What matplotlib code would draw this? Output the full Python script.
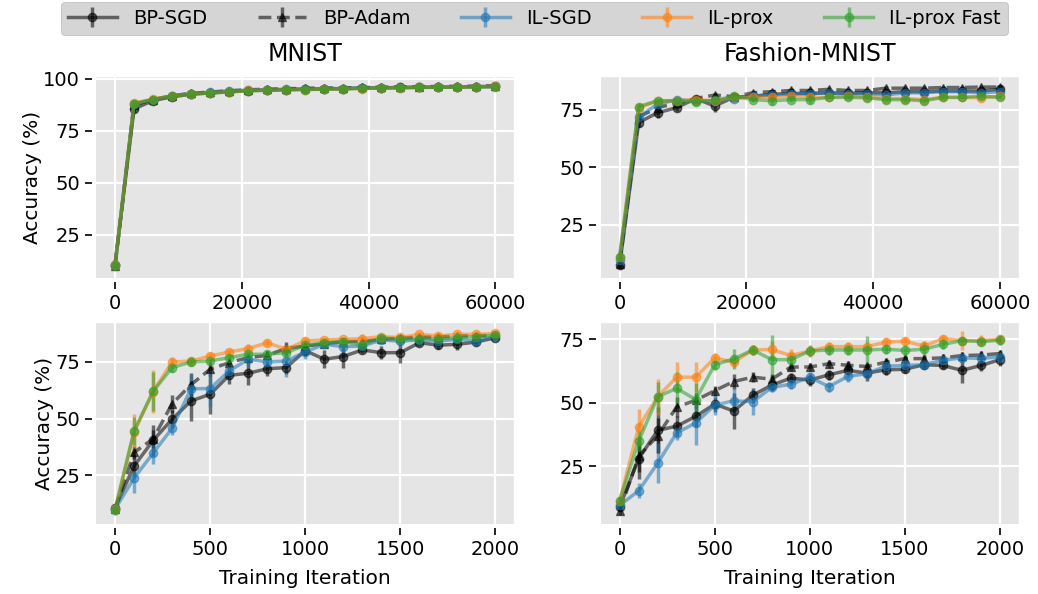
import numpy as np
import matplotlib
matplotlib.use("Agg")
import matplotlib.pyplot as plt

plt.style.use("ggplot")
plt.rcParams["font.family"] = ["DejaVu Sans"]
plt.rcParams["xtick.color"] = "black"
plt.rcParams["ytick.color"] = "black"
plt.rcParams["axes.labelcolor"] = "black"
plt.rcParams["text.color"] = "black"
plt.rcParams["grid.linewidth"] = 1.6

labels = ["BP-SGD", "BP-Adam", "IL-SGD", "IL-prox", "IL-prox Fast"]

# full-epoch runs (x every 3000 iterations)
x_long = [0, 3000, 6000, 9000, 12000, 15000, 18000, 21000, 24000, 27000, 30000,
          33000, 36000, 39000, 42000, 45000, 48000, 51000, 54000, 57000, 60000]
# first 2000 iterations (x every 100)
x_short = [0, 100, 200, 300, 400, 500, 600, 700, 800, 900, 1000,
           1100, 1200, 1300, 1400, 1500, 1600, 1700, 1800, 1900, 2000]

# MNIST, long run
mnist_long = {
    "BP-SGD": [10.5, 85.5, 89.5, 91.3, 92.6, 93.2, 93.8, 94.3, 94.5, 94.8, 95.0,
               95.1, 95.3, 95.5, 95.6, 95.8, 95.9, 96.0, 96.1, 96.2, 96.3],
    "BP-Adam": [10.0, 87.5, 90.0, 91.8, 93.0, 93.6, 94.2, 94.7, 95.0, 95.2, 95.4,
                95.6, 95.6, 95.8, 96.0, 96.1, 96.2, 96.3, 96.4, 96.5, 96.6],
    "IL-SGD": [10.5, 88.0, 90.0, 91.8, 92.9, 93.5, 94.2, 94.6, 94.8, 95.0, 95.1,
               95.3, 95.3, 95.6, 95.7, 95.8, 95.9, 96.0, 96.1, 96.2, 96.3],
    "IL-prox": [10.5, 88.3, 90.2, 91.7, 92.7, 93.2, 93.7, 94.4, 94.5, 94.7, 94.8,
                95.0, 95.2, 95.3, 95.6, 95.7, 95.9, 96.0, 96.1, 96.2, 96.3],
    "IL-prox Fast": [10.0, 88.0, 90.0, 91.5, 92.6, 93.1, 93.6, 94.3, 94.4, 94.7, 94.8,
                     95.0, 95.1, 95.4, 95.6, 95.7, 95.8, 95.9, 96.0, 96.1, 96.2],
}
mnist_long_err = {
    "BP-SGD": [1.0, 1.5, 0.8, 0.6, 0.5, 0.5, 0.4, 0.4, 0.4, 0.4, 0.3,
               0.3, 0.3, 0.3, 0.3, 0.3, 0.3, 0.3, 0.3, 0.3, 0.3],
    "BP-Adam": [1.0, 1.0, 0.6, 0.5, 0.4, 0.4, 0.4, 0.3, 0.3, 0.3, 0.3,
                0.3, 0.3, 0.3, 0.3, 0.3, 0.3, 0.3, 0.3, 0.3, 0.3],
    "IL-SGD": [1.0, 0.8, 0.5, 0.4, 0.4, 0.3, 0.3, 0.3, 0.3, 0.3, 0.3,
               0.3, 0.3, 0.3, 0.3, 0.3, 0.3, 0.3, 0.3, 0.3, 0.3],
    "IL-prox": [1.0, 0.8, 0.5, 0.4, 0.4, 0.3, 0.3, 0.3, 0.3, 0.3, 0.3,
                0.3, 0.3, 0.3, 0.5, 0.3, 0.3, 0.3, 0.3, 0.3, 0.3],
    "IL-prox Fast": [1.5, 0.8, 0.5, 0.4, 0.4, 0.3, 0.3, 0.3, 0.3, 0.3, 0.3,
                     0.3, 0.3, 0.3, 0.3, 0.3, 0.3, 0.3, 0.3, 0.3, 0.3],
}

# Fashion-MNIST, long run
fashion_long = {
    "BP-SGD": [7.2, 69.5, 73.8, 76.0, 80.0, 76.7, 80.6, 81.0, 81.8, 82.2, 82.2,
               82.5, 82.2, 82.5, 82.5, 83.0, 83.0, 83.3, 83.3, 83.3, 84.0],
    "BP-Adam": [8.0, 72.0, 76.0, 78.0, 80.0, 81.5, 80.8, 82.5, 83.0, 83.5, 83.5,
                84.0, 83.5, 83.5, 84.5, 84.5, 84.5, 84.8, 84.8, 85.0, 85.0],
    "IL-SGD": [9.5, 72.0, 77.5, 79.5, 79.0, 79.0, 80.0, 81.0, 81.5, 82.0, 82.0,
               82.5, 82.0, 82.0, 81.5, 82.5, 82.5, 83.0, 83.0, 82.5, 83.0],
    "IL-prox": [11.0, 76.0, 79.0, 79.0, 79.5, 79.0, 80.5, 80.5, 80.5, 81.0, 80.5,
                80.5, 81.0, 80.5, 80.0, 80.0, 79.5, 80.5, 80.5, 80.3, 81.0],
    "IL-prox Fast": [11.0, 76.5, 79.0, 79.0, 78.5, 79.2, 81.0, 79.5, 79.0, 79.5, 79.5,
                     80.5, 80.5, 80.3, 79.5, 79.5, 79.0, 80.5, 80.5, 81.0, 80.5],
}
fashion_long_err = {
    "BP-SGD": [1.5, 2.0, 2.5, 1.5, 1.0, 2.5, 1.0, 0.8, 0.8, 0.8, 0.8,
               0.8, 0.8, 0.8, 0.8, 0.8, 0.8, 0.8, 0.8, 0.8, 0.8],
    "BP-Adam": [1.5, 1.5, 1.0, 1.0, 0.8, 0.8, 0.8, 0.8, 0.8, 0.8, 0.8,
                0.8, 0.8, 0.8, 0.8, 0.8, 0.8, 0.8, 0.8, 0.8, 0.8],
    "IL-SGD": [1.5, 1.5, 1.0, 0.8, 0.8, 0.8, 0.6, 0.6, 0.6, 0.6, 0.6,
               0.6, 0.6, 0.6, 0.6, 0.6, 0.6, 0.6, 0.6, 0.6, 0.6],
    "IL-prox": [1.0, 1.0, 0.8, 0.8, 0.8, 0.8, 0.6, 0.6, 0.8, 0.6, 0.6,
                0.6, 0.6, 0.6, 0.8, 0.8, 0.6, 0.6, 0.6, 0.8, 0.6],
    "IL-prox Fast": [1.0, 1.5, 0.8, 0.8, 1.0, 0.8, 0.6, 1.0, 1.8, 1.0, 1.8,
                     0.8, 0.8, 0.8, 1.0, 1.5, 0.8, 1.0, 0.8, 1.2, 0.8],
}

# MNIST, first 2000 iterations
mnist_short = {
    "BP-SGD": [10.5, 29.0, 40.3, 49.7, 57.8, 60.7, 69.1, 70.0, 72.0, 72.5, 80.0,
               76.2, 77.4, 80.3, 79.1, 79.1, 83.5, 82.4, 82.8, 83.8, 85.7],
    "BP-Adam": [10.0, 35.0, 41.0, 56.5, 65.0, 71.8, 74.7, 76.9, 77.9, 81.0, 82.0,
                83.0, 84.0, 84.0, 85.0, 85.5, 86.0, 86.0, 86.5, 86.5, 86.8],
    "IL-SGD": [10.0, 23.7, 34.7, 45.7, 63.2, 63.2, 71.0, 76.2, 75.0, 75.4, 79.4,
               82.8, 81.8, 82.0, 84.7, 84.2, 84.7, 84.2, 85.0, 84.2, 86.5],
    "IL-prox": [10.0, 44.0, 61.9, 75.0, 75.4, 77.6, 79.4, 80.9, 83.5, 80.6, 84.3,
                84.7, 85.0, 85.3, 86.2, 85.8, 87.2, 86.5, 87.2, 87.2, 87.6],
    "IL-prox Fast": [9.5, 44.5, 62.0, 72.5, 75.0, 75.4, 76.9, 78.4, 78.4, 79.1, 82.4,
                     83.5, 84.0, 82.4, 85.7, 85.0, 85.3, 85.3, 85.7, 86.2, 86.8],
}
mnist_short_err = {
    "BP-SGD": [1.0, 5.0, 7.0, 4.0, 9.0, 8.5, 4.0, 5.0, 3.0, 3.0, 2.0,
               4.0, 5.0, 1.5, 3.0, 4.4, 1.5, 1.5, 2.5, 1.5, 1.0],
    "BP-Adam": [1.0, 3.0, 4.0, 4.0, 5.0, 3.0, 2.0, 2.0, 2.0, 3.0, 1.5,
                1.5, 1.5, 1.5, 1.0, 1.5, 1.0, 1.0, 1.0, 1.0, 1.0],
    "IL-SGD": [1.5, 6.5, 5.0, 3.0, 6.0, 8.0, 4.0, 3.0, 3.0, 7.0, 3.0,
               1.5, 2.5, 1.5, 1.5, 1.5, 1.5, 1.5, 1.5, 2.0, 1.0],
    "IL-prox": [1.5, 8.0, 9.5, 2.0, 2.0, 2.0, 1.5, 2.0, 1.5, 1.5, 1.5,
                1.0, 1.0, 2.0, 1.0, 1.0, 1.0, 1.0, 1.0, 1.0, 1.0],
    "IL-prox Fast": [2.0, 6.0, 8.5, 2.0, 2.0, 1.5, 1.5, 1.5, 1.5, 1.5, 1.5,
                     1.0, 1.0, 1.5, 1.0, 1.0, 1.0, 1.0, 1.0, 1.0, 1.0],
}

# Fashion-MNIST, first 2000 iterations
fashion_short = {
    "BP-SGD": [9.0, 28.0, 39.2, 40.8, 44.7, 49.5, 46.8, 53.0, 57.0, 59.7, 59.0,
               61.0, 62.8, 61.7, 63.0, 63.2, 65.0, 64.7, 62.8, 64.7, 67.0],
    "BP-Adam": [7.5, 29.0, 37.1, 48.4, 51.0, 54.8, 58.4, 60.1, 59.3, 64.1, 64.1,
                65.4, 64.8, 64.3, 66.0, 67.4, 67.4, 67.7, 68.6, 68.8, 69.4],
    "IL-SGD": [9.7, 15.4, 26.3, 38.2, 42.1, 49.1, 50.8, 50.4, 56.1, 57.3, 60.1,
               56.4, 60.4, 61.5, 64.4, 64.7, 65.0, 66.8, 67.7, 67.5, 68.1],
    "IL-prox": [11.4, 40.5, 52.4, 60.1, 60.1, 67.7, 66.0, 70.8, 71.0, 68.6, 70.4,
                72.1, 72.1, 72.1, 73.9, 74.3, 72.3, 75.3, 74.5, 74.5, 75.0],
    "IL-prox Fast": [11.5, 34.9, 52.4, 55.7, 51.3, 65.0, 67.3, 70.8, 67.0, 67.0, 70.4,
                     70.8, 70.8, 70.8, 71.1, 70.6, 71.1, 73.0, 74.5, 74.1, 74.6],
}
fashion_short_err = {
    "BP-SGD": [1.5, 8.0, 9.0, 4.0, 4.0, 3.0, 7.0, 3.0, 2.0, 2.0, 2.5,
               2.0, 2.0, 3.0, 2.0, 1.5, 1.5, 1.5, 5.0, 2.0, 2.5],
    "BP-Adam": [1.5, 6.0, 7.0, 4.0, 3.0, 2.0, 3.0, 2.0, 2.0, 1.5, 1.5,
                1.5, 1.5, 1.5, 1.5, 1.5, 1.5, 1.5, 1.5, 1.5, 1.5],
    "IL-SGD": [1.5, 3.0, 8.0, 3.0, 8.5, 4.0, 5.0, 5.0, 2.0, 2.0, 2.0,
               2.0, 2.0, 2.0, 1.5, 1.5, 1.5, 1.5, 1.5, 1.5, 1.5],
    "IL-prox": [1.5, 7.0, 7.0, 6.0, 6.0, 2.0, 2.0, 2.0, 3.3, 2.5, 2.0,
                2.0, 2.0, 2.0, 1.5, 1.5, 2.0, 1.5, 3.7, 2.0, 1.5],
    "IL-prox Fast": [1.5, 4.0, 6.0, 6.6, 6.6, 2.0, 4.0, 2.0, 9.5, 2.5, 2.5,
                     2.0, 2.0, 5.3, 2.0, 2.0, 3.0, 2.0, 1.5, 1.5, 2.0],
}

colors = {"BP-SGD": "black", "BP-Adam": "black", "IL-SGD": "#1f77b4",
          "IL-prox": "#ff7f0e", "IL-prox Fast": "#2ca02c"}
markers = {"BP-SGD": "o", "BP-Adam": "^", "IL-SGD": "o", "IL-prox": "o", "IL-prox Fast": "o"}
styles = {"BP-SGD": "-", "BP-Adam": "--", "IL-SGD": "-", "IL-prox": "-", "IL-prox Fast": "-"}

fig, axes = plt.subplots(2, 2, figsize=(10.38, 5.94), dpi=100)
fig.subplots_adjust(left=0.0925, right=0.9817, top=0.872, bottom=0.118,
                    wspace=0.206, hspace=0.218)

panels = [
    (axes[0, 0], x_long, mnist_long, mnist_long_err, [25, 50, 75, 100], [0, 20000, 40000, 60000]),
    (axes[0, 1], x_long, fashion_long, fashion_long_err, [25, 50, 75], [0, 20000, 40000, 60000]),
    (axes[1, 0], x_short, mnist_short, mnist_short_err, [25, 50, 75], [0, 500, 1000, 1500, 2000]),
    (axes[1, 1], x_short, fashion_short, fashion_short_err, [25, 50, 75], [0, 500, 1000, 1500, 2000]),
]

handles = []
for ax, xs, data, err, yt, xt in panels:
    hs = []
    for name in labels:
        h = ax.errorbar(xs, data[name], yerr=err[name], color=colors[name],
                        linestyle=styles[name], marker=markers[name], markersize=6,
                        linewidth=2.5, elinewidth=2.5, capsize=0, alpha=0.55)
        hs.append(h)
    handles = hs
    ax.set_yticks(yt)
    ax.set_xticks(xt)
    ax.tick_params(labelsize=14, length=5, width=1.2)
    for side in ["left", "bottom"]:
        ax.spines[side].set_position(("outward", 3))
        ax.spines[side].set_visible(False)

axes[0, 0].set_title("MNIST", fontsize=17, pad=11)
axes[0, 1].set_title("Fashion-MNIST", fontsize=17, pad=11)
axes[0, 0].set_ylabel("Accuracy (%)", fontsize=14.5, labelpad=1)
axes[1, 0].set_ylabel("Accuracy (%)", fontsize=14.5, labelpad=1)
axes[1, 0].set_xlabel("Training Iteration", fontsize=14.5, labelpad=7)
axes[1, 1].set_xlabel("Training Iteration", fontsize=14.5, labelpad=7)

fig.legend(handles, labels, loc="upper center", ncol=5, bbox_to_anchor=(0.515, 1.0),
           fontsize=14, handlelength=2.5, handletextpad=0.85, columnspacing=2.6,
           facecolor="#d5d5d5", edgecolor="#bbbbbb", framealpha=1.0, borderaxespad=0.1,
           borderpad=0.35)

fig.savefig("out.png", dpi=100)
